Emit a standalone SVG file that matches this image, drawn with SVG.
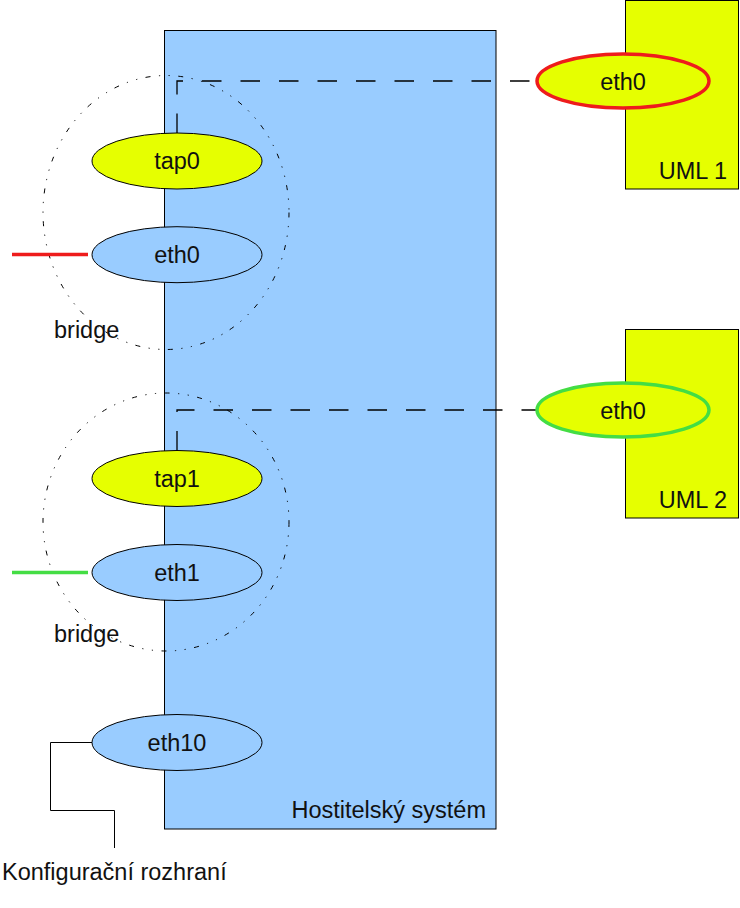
<svg xmlns="http://www.w3.org/2000/svg" width="740" height="908" viewBox="0 0 740 908">
<style>
text{font-family:"Liberation Sans",Arial,sans-serif;font-size:23.5px;fill:#111}
.mid{text-anchor:middle}
.end{text-anchor:end}
.host{fill:#99ccff;stroke:#000;stroke-width:1}
.uml{fill:#e6ff00;stroke:#000;stroke-width:1}
.if{stroke:#000;stroke-width:1}
.blue{fill:#99ccff}
.yel{fill:#e6ff00}
.bridge{fill:none;stroke:#000;stroke-width:1;stroke-dasharray:5 8.5 1.2 8.5 1.2 8.5}
.dash{fill:none;stroke:#000;stroke-width:1.3;stroke-dasharray:19.5 19}
</style>
<rect width="740" height="908" fill="#fff"/>
<g id="host">
<rect class="host" x="164.5" y="30.5" width="331.5" height="798.5"/>
<text class="end" x="486" y="818">Hostitelský systém</text>
</g>
<g id="uml1">
<rect class="uml" x="625.5" y="0.5" width="113" height="188.5"/>
<text class="end" x="727" y="179">UML 1</text>
</g>
<g id="uml2">
<rect class="uml" x="625.5" y="329.5" width="113" height="188.5"/>
<text class="end" x="727" y="508">UML 2</text>
</g>
<g id="bridge1">
<ellipse class="bridge" cx="166" cy="212.5" rx="123" ry="137"/>
<text x="54" y="338">bridge</text>
</g>
<g id="bridge2">
<ellipse class="bridge" cx="166" cy="522" rx="123" ry="129"/>
<text x="54" y="642">bridge</text>
</g>
<g id="connectors">
<path class="dash" d="M177,133 V81 H537"/>
<path class="dash" d="M177,450.5 V410 H537"/>
<line x1="12" y1="254.5" x2="88" y2="254.5" stroke="#ee1c1c" stroke-width="3.5"/>
<line x1="12" y1="572.5" x2="88" y2="572.5" stroke="#44dd44" stroke-width="3.5"/>
<polyline points="92,742.5 50.5,742.5 50.5,810.5 114.5,810.5 114.5,848" fill="none" stroke="#000" stroke-width="1"/>
</g>
<g id="tap0">
<ellipse class="if yel" cx="177" cy="161" rx="85" ry="28"/>
<text class="mid" x="177" y="169">tap0</text>
</g>
<g id="host-eth0">
<ellipse class="if blue" cx="177" cy="254.7" rx="85" ry="28"/>
<text class="mid" x="177" y="263">eth0</text>
</g>
<g id="tap1">
<ellipse class="if yel" cx="177" cy="478.5" rx="85" ry="28"/>
<text class="mid" x="177" y="486.5">tap1</text>
</g>
<g id="host-eth1">
<ellipse class="if blue" cx="177" cy="572.5" rx="85" ry="28"/>
<text class="mid" x="177" y="581">eth1</text>
</g>
<g id="host-eth10">
<ellipse class="if blue" cx="177" cy="742.5" rx="85" ry="28"/>
<text class="mid" x="177" y="751">eth10</text>
</g>
<g id="uml1-eth0">
<ellipse class="yel" cx="623" cy="81" rx="86" ry="27" stroke="#ee1c1c" stroke-width="3.5"/>
<text class="mid" x="623" y="90">eth0</text>
</g>
<g id="uml2-eth0">
<ellipse class="yel" cx="623" cy="410" rx="86" ry="27" stroke="#44dd44" stroke-width="3.5"/>
<text class="mid" x="623" y="419">eth0</text>
</g>
<g id="config-label">
<text x="2" y="880">Konfigurační rozhraní</text>
</g>
</svg>
